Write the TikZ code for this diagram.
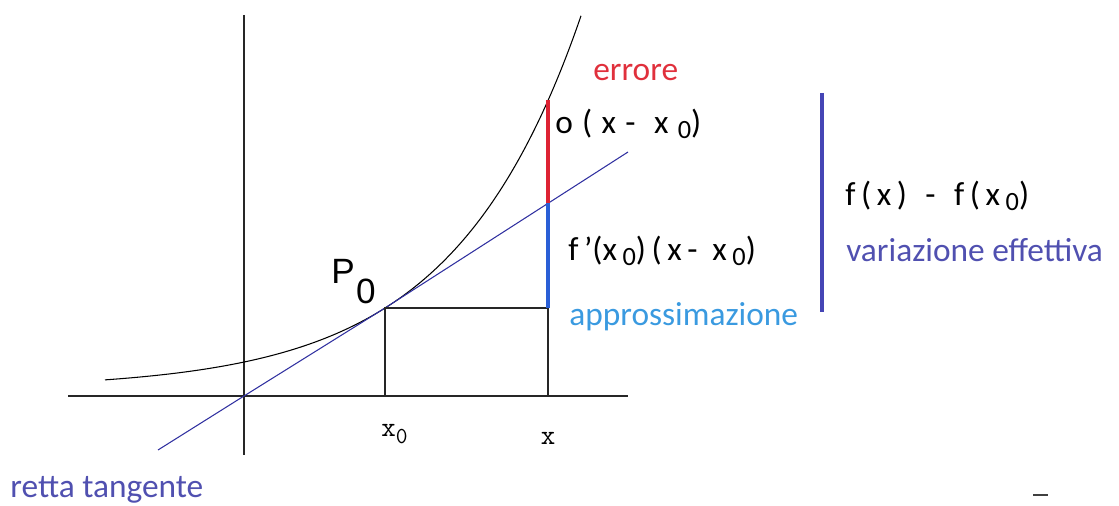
\documentclass[tikz,border=0pt]{standalone}
\usepackage{fontspec}
\setmainfont{Carlito}
\newfontfamily\arialf{Liberation Sans}
\definecolor{errred}{HTML}{E0303C}
\definecolor{barred}{HTML}{DD2233}
\definecolor{apblue}{HTML}{3A9AE0}
\definecolor{barblue}{HTML}{2A5FD6}
\definecolor{varblue}{HTML}{5050B0}
\definecolor{darkbar}{HTML}{4545B5}
\definecolor{tanblue}{HTML}{3030A0}
\newcommand{\sbz}{\raisebox{-0.35ex}{\fontsize{15}{15}\selectfont 0}}
\tikzset{
  axis/.style={line width=0.9pt, black!85},
  curvestyle/.style={line width=0.6pt, black},
  tanline/.style={line width=0.6pt, tanblue},
  guide/.style={line width=0.8pt, black!85},
  lbl/.style={inner sep=0pt, anchor=west, font=\fontsize{19}{23}\selectfont},
}
\begin{document}
\begin{tikzpicture}[x=0.02cm,y=-0.02cm]
\useasboundingbox (0,0) rectangle (1119,506);
% coordinates
\coordinate (ytop) at (244,15);
\coordinate (ybot) at (244,455);
\coordinate (xl) at (68,396);
\coordinate (xr) at (628,396);
\coordinate (O) at (244,396);
\coordinate (P0) at (385,308);
\coordinate (X0) at (385,396);
\coordinate (Xb) at (548,396);
\coordinate (Xp) at (548,308);
\coordinate (T) at (548,203);
\coordinate (F) at (548,100);
\coordinate (tl) at (158,450);
\coordinate (tr) at (628,152);
\coordinate (bt) at (822,93);
\coordinate (bb) at (822,312);
% axes
\draw[axis] (xl) -- (xr);
\draw[axis] (ytop) -- (ybot);
% curve
\draw[curvestyle] plot[domain=105:581, samples=120, smooth] (\x, {389 - 26.96*exp(0.0078*(\x-244))});
% tangent
\draw[tanline] (tl) -- (O) -- (P0) -- (tr);
% guides
\draw[guide] (X0) -- (P0) -- (Xp) -- (Xb);
% bars
\draw[barblue, line width=2.8pt] (Xp) -- (T);
\draw[barred, line width=2.8pt] (T) -- (F);
\draw[darkbar, line width=2.8pt] (bt) -- (bb);
% labels
\node[lbl, text=errred] (lerr) at (593,73) {errore};
\node[lbl] (lo) at (555,124) {o\;(\;x\;-\;\;x\;\sbz)};
\node[lbl] (lfp) at (568,251) {f\,'(x\,\sbz)\,(\,x\,-\;\,x\,\sbz)};
\node[lbl, text=apblue] (lap) at (569,317) {approssimazione};
\node[lbl] (lf) at (845,196) {f\,(\,x\,)\;\;-\;\;f\,(\,x\,\sbz)};
\node[lbl, text=varblue] (lvar) at (846,250) {variazione effettiva};
\node[lbl, text=varblue] (lret) at (10,490) {retta tangente};
\node[inner sep=0pt, font=\arialf\fontsize{20}{24}\selectfont] (lP) at (343,271) {P};
\node[inner sep=0pt, font=\arialf\fontsize{20}{24}\selectfont] (lPs) at (366,291) {0};
\node[inner sep=0pt, anchor=west, font=\ttfamily\fontsize{16}{18}\selectfont] (lx0) at (381,434) {x\raisebox{-0.6ex}{\fontsize{13}{14}\selectfont 0}};
\node[inner sep=0pt, font=\ttfamily\fontsize{16}{18}\selectfont] (lx) at (548,438) {x};
\coordinate (d1) at (1033,495);
\coordinate (d2) at (1048,495);
\draw[line width=1.2pt, black!75] (d1) -- (d2);
\end{tikzpicture}
\end{document}
